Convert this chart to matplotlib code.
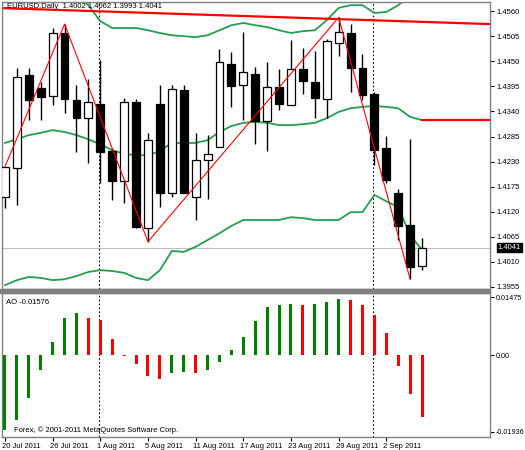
import matplotlib
matplotlib.use("Agg")
import matplotlib.pyplot as plt
import matplotlib.transforms as mtrans
from matplotlib.patches import Rectangle
import numpy as np

plt.rcParams['font.family'] = ['Liberation Sans', 'DejaVu Sans']

opens  = [1.41515,1.42151,1.44197,1.43919,1.43744,1.45110,1.43649,1.43247,1.43554,1.42531,1.41873,1.43612,
          1.40836,1.43554,1.41618,1.43868,1.41530,1.42334,1.42626,1.44431,1.43978,1.44219,1.43196,1.43927,
          1.43532,1.44328,1.44051,1.43678,1.44891,1.45110,1.44343,1.43780,1.42589,1.41603,1.40909,1.4002]
closes = [1.42188,1.44160,1.43649,1.43722,1.45110,1.43664,1.43247,1.43612,1.42516,1.41873,1.43612,1.40872,
          1.42772,1.41618,1.43883,1.41603,1.42334,1.42465,1.44475,1.43956,1.44255,1.43196,1.43927,1.43554,
          1.44321,1.44065,1.43700,1.44942,1.45132,1.44358,1.43759,1.42553,1.41895,1.40894,1.39995,1.4041]
highs  = [1.42188,1.44358,1.44343,1.44051,1.45220,1.45315,1.43978,1.44102,1.44526,1.42589,1.43685,1.43664,
          1.42933,1.43978,1.43978,1.43978,1.42918,1.42882,1.44760,1.44708,1.45147,1.44380,1.44489,1.44328,
          1.44964,1.44782,1.44723,1.44979,1.45461,1.45315,1.44657,1.43832,1.42867,1.41698,1.42787,1.4062]
lows   = [1.41274,1.41347,1.43211,1.43211,1.43539,1.43357,1.42516,1.42261,1.41822,1.41457,1.41398,1.40836,
          1.40543,1.41311,1.41530,1.41603,1.41018,1.41471,1.42626,1.43503,1.43211,1.42684,1.42538,1.43430,
          1.43532,1.43780,1.43247,1.43247,1.44621,1.43817,1.43649,1.42224,1.41822,1.40580,1.39718,1.3993]
bb_upper = [1.4582,1.4589,1.4599,1.4610,1.4628,1.4617,1.4597,1.4573,1.4538,1.4523,1.4523,1.4523,1.4518,1.4512,
            1.4507,1.4505,1.4503,1.4507,1.4518,1.4529,1.4534,1.4529,1.4525,1.4518,1.4512,1.4516,1.4518,1.4540,
            1.4567,1.4573,1.4573,1.4556,1.4558,1.4573,1.4595,1.4606]
bb_mid = [1.4271,1.4279,1.4288,1.4293,1.4299,1.4295,1.4288,1.4279,1.4268,1.4255,1.4247,1.4244,1.4244,1.4253,
          1.4271,1.4271,1.4271,1.4277,1.4295,1.4308,1.4315,1.4317,1.4315,1.4310,1.4310,1.4312,1.4315,1.4325,
          1.4339,1.4347,1.4350,1.4352,1.4350,1.4347,1.4328,1.4321]
bb_lower = [1.3959,1.3970,1.3977,1.3975,1.3970,1.3972,1.3979,1.3988,1.3992,1.3990,1.3986,1.3975,1.3970,1.3992,
            1.4034,1.4032,1.4043,1.4058,1.4073,1.4089,1.4102,1.4102,1.4102,1.4102,1.4108,1.4106,1.4102,1.4102,
            1.4102,1.4119,1.4119,1.4157,1.4143,1.4130,1.4069,1.4036]
zigzag_idx = [0,5,12,28,34]
zigzag_val = [1.42188,1.45315,1.40543,1.45461,1.39718]
trend_x = [-0.25,40.8]; trend_y = [1.45666,1.45315]
hline_x = [35,41.5]; hline_y = [1.43211,1.43211]
ao = [-0.0189,-0.0163,-0.0107,-0.0037,0.0035,0.0095,0.0107,0.0095,0.0089,0.0042,-0.0002,-0.0023,-0.0053,-0.0061,
      -0.0045,-0.0041,-0.0045,-0.0037,-0.0016,0.0015,0.0046,0.0087,0.0122,0.0128,0.0130,0.0128,0.0132,0.0136,
      0.0143,0.0140,0.0128,0.0102,0.0057,-0.0028,-0.0098,-0.01576]
price_ticks = [1.4560,1.4505,1.4450,1.4395,1.4340,1.4285,1.4230,1.4175,1.4120,1.4065,1.4010,1.3955]
date_idx = [0,4,8,12,16,20,24,28,32]
date_labels = ["20 Jul 2011","26 Jul 2011","1 Aug 2011","5 Aug 2011","11 Aug 2011","17 Aug 2011",
               "23 Aug 2011","29 Aug 2011","2 Sep 2011"]
separators = [7.85,30.85]
last_price = 1.4041

W,H = 525,450
fig = plt.figure(figsize=(W/100,H/100), dpi=100)
fig.patch.set_facecolor("white")
FS = 5.5
AXW = 490
ax1 = fig.add_axes([2/W,(H-289)/H,(AXW-2)/W,287/H])
ax2 = fig.add_axes([2/W,(H-437)/H,(AXW-2)/W,144/H])
fig.patches.append(Rectangle((0,(H-293)/H),AXW/W,4/H,transform=fig.transFigure,color="#808080",zorder=5))
XR = 40.7

x = np.arange(len(opens))
green_bb = "#20a050"
ax1.plot(x,bb_upper,color=green_bb,lw=1.3,zorder=2)
ax1.plot(x,bb_mid,color=green_bb,lw=1.3,zorder=2)
ax1.plot(x,bb_lower,color=green_bb,lw=1.3,zorder=2)
ax1.axhline(last_price,color="#c0c0c0",lw=0.8,zorder=1)
ax1.vlines(x,lows,highs,color="black",lw=1,zorder=3)
for i in x:
    o,c = opens[i],closes[i]
    fc = "white" if c>=o else "black"
    ax1.add_patch(Rectangle((i-0.33,min(o,c)),0.66,max(abs(c-o),0.00005),facecolor=fc,edgecolor="black",lw=0.9,zorder=4))
ax1.plot(zigzag_idx,zigzag_val,color="red",lw=0.8,zorder=5)
ax1.plot(trend_x,trend_y,color="red",lw=1.6,zorder=2)
ax1.plot(hline_x,hline_y,color="red",lw=1.6,zorder=2)
for s in separators:
    ax1.axvline(s,color="black",ls=(0,(1.5,2)),lw=0.8,zorder=1)
    ax2.axvline(s,color="black",ls=(0,(1.5,2)),lw=0.8,zorder=1)
ax1.set_xlim(-0.25,XR); ax1.set_ylim(1.39506,1.4580)
ax1.yaxis.tick_right()
ax1.set_yticks(price_ticks); ax1.set_yticklabels([f"{p:.4f}" for p in price_ticks],fontsize=FS)
ax1.tick_params(axis="y",length=3,pad=2,width=0.8)
ax1.set_xticks([])
ax1.text(0.01,0.996,"EURUSD,Daily  1.4002 1.4062 1.3993 1.4041",transform=ax1.transAxes,fontsize=FS,va="top",ha="left")
ax1.text(1.016,last_price,f"{last_price:.4f}",transform=mtrans.blended_transform_factory(ax1.transAxes,ax1.transData),
         fontsize=FS,color="white",va="center",ha="left",bbox=dict(boxstyle="square,pad=0.15",fc="black",ec="black"),clip_on=False)

cols = []
for i,v in enumerate(ao):
    up = i==0 or v>ao[i-1]
    cols.append("#008000" if up else "#ff0000")
ax2.bar(x,ao,width=0.25,color=cols,zorder=3)
ax2.set_xlim(-0.25,XR); ax2.set_ylim(-0.02074,0.01587)
ax2.yaxis.tick_right()
ax2.set_yticks([0.01475,0.0,-0.01936]); ax2.set_yticklabels(["0.01475","0.00","-0.01936"],fontsize=5.2)
ax2.tick_params(axis="y",length=3,pad=1,width=0.8)
ax2.set_xticks(date_idx); ax2.set_xticklabels(date_labels,fontsize=FS,ha="left")
ax2.tick_params(axis="x",length=3,pad=1,width=0.8)
for lab in ax2.get_xticklabels():
    lab.set_transform(lab.get_transform()+mtrans.ScaledTranslation(-3/100,0,fig.dpi_scale_trans))
ax2.text(0.008,0.96,"AO -0.01576",transform=ax2.transAxes,fontsize=FS,va="top",ha="left")
ax2.text(0.024,0.02,"Forex, © 2001-2011 MetaQuotes Software Corp.",transform=ax2.transAxes,fontsize=FS,va="bottom",ha="left")
for a in (ax1,ax2):
    for sp in a.spines.values():
        sp.set_color("#808080"); sp.set_linewidth(1)
fig.savefig("out.png",dpi=100,facecolor="white")
